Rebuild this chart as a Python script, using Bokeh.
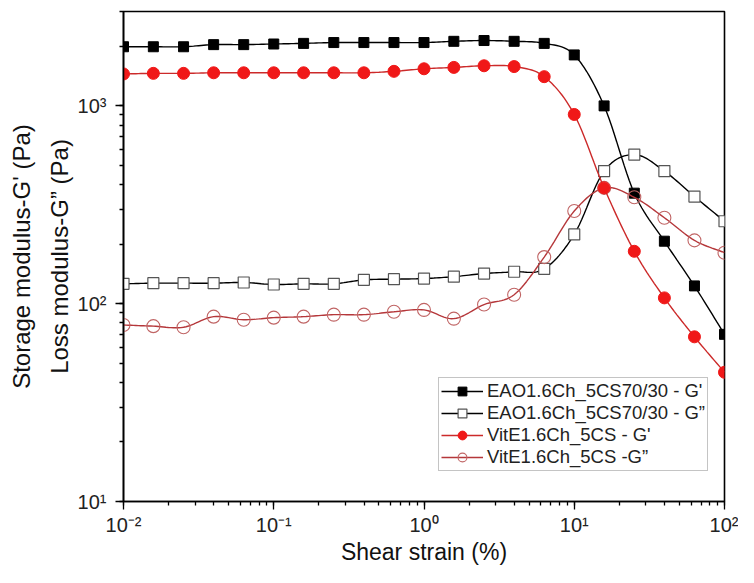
import numpy as np
from bokeh.plotting import figure
from bokeh.models import (LinearAxis, FixedTicker, Legend, LegendItem,
                          LogTicker, Range1d)
from bokeh.embed import file_html
from bokeh.resources import INLINE

# ---- data ----
strain = [0.01, 0.0158, 0.0251, 0.0398, 0.0631, 0.1, 0.158, 0.251, 0.398, 0.631,
          1.0, 1.58, 2.51, 3.98, 6.31, 10.0, 15.8, 25.1, 39.8, 63.1, 100.0]
eao_gp = [1990, 1990, 1990, 2040, 2040, 2055, 2070, 2090, 2090, 2090,
          2090, 2120, 2140, 2120, 2070, 1810, 1000, 362, 207, 123, 70]
eao_gpp = [126, 127, 127, 127, 128, 125, 126, 126, 132, 133,
           134, 137, 142, 145, 150, 224, 468, 567, 468, 348, 261]
vit_gp = [1450, 1460, 1460, 1470, 1470, 1470, 1470, 1470, 1470, 1495,
          1540, 1565, 1595, 1580, 1405, 905, 385, 184, 107, 68, 45]
vit_gpp = [78, 77, 76, 86, 83, 85, 86, 88, 88, 91,
           93, 84, 99, 111, 172, 294, 385, 345, 272, 209, 181]

labels = ["EAO1.6Ch_5CS70/30 - G'", "EAO1.6Ch_5CS70/30 - G\u201d",
          "VitE1.6Ch_5CS - G'", "VitE1.6Ch_5CS -G\u201d"]

x_ticks = [0.01, 0.1, 1, 10, 100]
x_tick_labels = ["10\u207b\u00b2", "10\u207b\u00b9", "10\u2070", "10\u00b9", "10\u00b2"]
y_ticks = [10, 100, 1000]
y_tick_labels = ["10\u00b9", "10\u00b2", "10\u00b3"]


def smooth(xs, ys, n=12):
    """Catmull-Rom curve through the points, in log-log space (rendering only)."""
    lx = np.log10(np.asarray(xs, float))
    ly = np.log10(np.asarray(ys, float))
    P = np.column_stack([lx, ly])
    P = np.vstack([P[0] * 2 - P[1], P, P[-1] * 2 - P[-2]])
    out = []
    for i in range(1, len(P) - 2):
        p0, p1, p2, p3 = P[i - 1], P[i], P[i + 1], P[i + 2]
        for t in np.linspace(0, 1, n, endpoint=False):
            t2, t3 = t * t, t * t * t
            pt = 0.5 * ((2 * p1) + (-p0 + p2) * t + (2 * p0 - 5 * p1 + 4 * p2 - p3) * t2
                        + (-p0 + 3 * p1 - 3 * p2 + p3) * t3)
            out.append(pt)
    out.append(P[-2])
    out = np.array(out)
    return 10 ** out[:, 0], 10 ** out[:, 1]


FONT = "Liberation Sans"

p = figure(width=738, height=567, x_axis_type="log", y_axis_type="log",
           x_range=Range1d(0.01, 100), y_range=Range1d(10, 3000),
           output_backend="svg", toolbar_location=None,
           min_border_left=123, min_border_right=14, min_border_top=11,
           min_border_bottom=0)
p.xgrid.visible = False
p.ygrid.visible = False
p.outline_line_color = "black"
p.outline_line_width = 1.6
p.background_fill_color = "white"
p.border_fill_color = "white"

for ax in (p.xaxis[0], p.yaxis[0]):
    ax.axis_line_width = 1.6
    ax.axis_line_color = "black"
    ax.major_tick_out = 8
    ax.major_tick_in = 0
    ax.minor_tick_out = 4
    ax.minor_tick_in = 0
    ax.major_tick_line_width = 1.3
    ax.minor_tick_line_width = 1.3
    ax.major_label_text_font = FONT
    ax.major_label_text_font_size = "20px"
    ax.major_label_text_color = "#222222"
    ax.axis_label_text_font = FONT
    ax.axis_label_text_font_style = "normal"
    ax.axis_label_text_color = "#111111"

p.xaxis[0].ticker = LogTicker(desired_num_ticks=5, num_minor_ticks=10)
p.yaxis[0].ticker = LogTicker(desired_num_ticks=3, num_minor_ticks=10)
p.xaxis[0].major_label_overrides = {t: l for t, l in zip(x_ticks, x_tick_labels)}
p.yaxis[0].major_label_overrides = {t: l for t, l in zip(y_ticks, y_tick_labels)}
p.xaxis[0].axis_label = "Shear strain (%)"
p.xaxis[0].axis_label_text_font_size = "23px"
p.xaxis[0].major_label_standoff = 4
p.xaxis[0].axis_label_standoff = 0
p.yaxis[0].axis_label = "Loss modulus-G\u201d (Pa)"
p.yaxis[0].axis_label_text_font_size = "24px"
p.yaxis[0].major_label_standoff = 9
p.yaxis[0].axis_label_standoff = 2

outer = LinearAxis(ticker=FixedTicker(ticks=[]), axis_label="Storage modulus-G' (Pa)",
                   axis_line_color=None, major_tick_line_color=None,
                   minor_tick_line_color=None, axis_label_standoff=8,
                   major_label_standoff=0, major_tick_out=0, major_tick_in=0,
                   axis_label_text_font=FONT,
                   axis_label_text_font_style="normal", axis_label_text_font_size="24px",
                   axis_label_text_color="#111111")
p.add_layout(outer, "left")

RED = "#f01818"
RED_LINE = "#cc2a2a"
BROWN = "#b5373a"

sx, sy = smooth(strain, eao_gp)
l1 = p.line(sx, sy, line_color="black", line_width=1.4)
m1 = p.scatter(strain, eao_gp, marker="square", size=10, fill_color="black",
               line_color="black")

sx, sy = smooth(strain, eao_gpp)
l2 = p.line(sx, sy, line_color="black", line_width=1.4)
m2 = p.scatter(strain, eao_gpp, marker="square", size=11, fill_color="white",
               line_color="#555555", line_width=1.2)

sx, sy = smooth(strain, vit_gpp)
l4 = p.line(sx, sy, line_color=BROWN, line_width=1.4)
m4 = p.scatter(strain, vit_gpp, marker="circle", size=13, fill_color="white",
               fill_alpha=0.0, line_color="#c06565", line_width=1.1)

sx, sy = smooth(strain, vit_gp)
l3 = p.line(sx, sy, line_color=RED_LINE, line_width=1.4)
m3 = p.scatter(strain, vit_gp, marker="circle", size=12, fill_color=RED,
               line_color=RED)

items = [LegendItem(label=labels[0], renderers=[l1, m1]),
         LegendItem(label=labels[1], renderers=[l2, m2]),
         LegendItem(label=labels[2], renderers=[l3, m3]),
         LegendItem(label=labels[3], renderers=[l4, m4])]

legend = Legend(items=items, location=(315, 30), orientation="vertical",
                label_text_font=FONT, label_text_font_size="18.5px",
                label_text_color="#222222", glyph_width=42, glyph_height=22,
                label_height=22, label_standoff=4, spacing=0, padding=2, margin=0,
                border_line_color="#8a8a8a", border_line_width=1.2,
                background_fill_color="white", background_fill_alpha=1.0)
p.add_layout(legend, "center")

open("out.html", "w").write(file_html(p, INLINE))
